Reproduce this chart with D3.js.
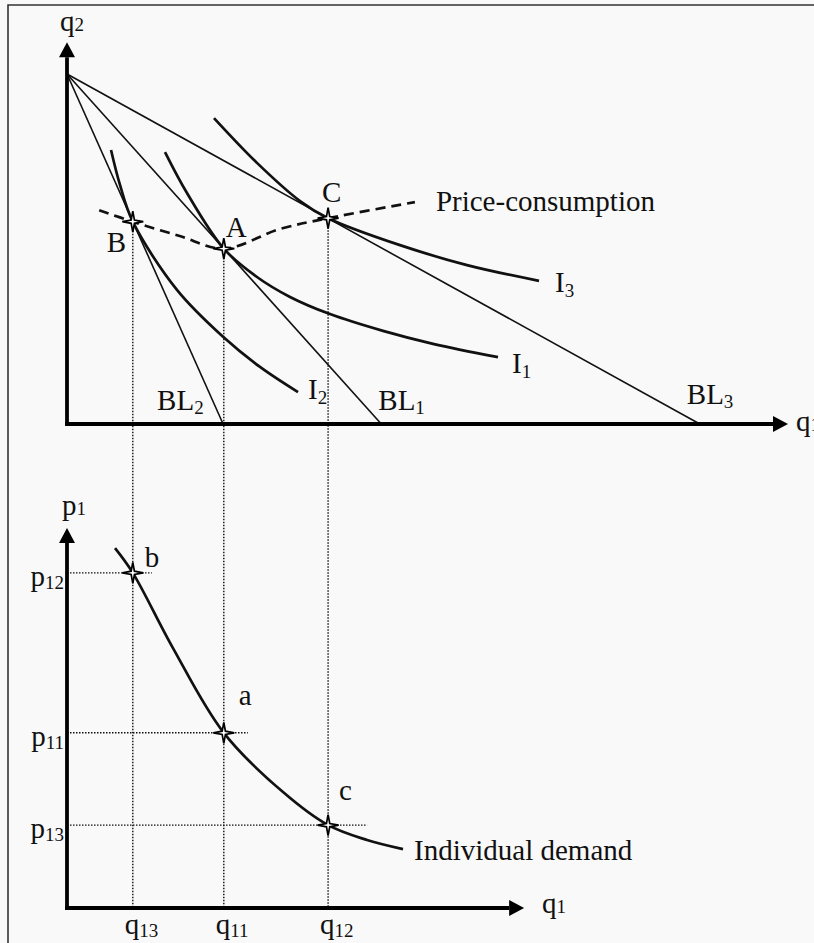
<!DOCTYPE html>
<html><head><meta charset="utf-8">
<script src="https://cdn.jsdelivr.net/npm/d3@7"></script>
<style>
html,body{margin:0;padding:0;background:#f9f9f9;}
svg{display:block;}
text{font-family:"Liberation Serif","Times New Roman",serif;fill:#111;}
</style></head><body>
<svg id="c" width="814" height="943"></svg>
<script>
// ---------------- data ----------------
const q2Intercept = 100;
const budgetLines = [
  {name:"BL", sub:"2", q1:22.3},
  {name:"BL", sub:"1", q1:44.9},
  {name:"BL", sub:"3", q1:90.4}
];
const equilibria = [
  {name:"B", q1:9.4,  q2:57.8},
  {name:"A", q1:22.4, q2:50.1},
  {name:"C", q1:37.3, q2:58.8}
];
const curveI2 = [[6.29,78.3],[7.57,68.3],[9.4,57.8],[15.71,38.3],[22.29,24.9],[27.57,16.3],[33.0,9.1]];
const curveI1 = [[14.0,77.7],[17.14,66.0],[22.4,50.1],[27.14,42.0],[31.86,36.3],[37.57,31.4],[45.14,26.6],[52.29,22.9],[61.57,19.1]];
const curveI3 = [[21.0,87.4],[27.14,74.6],[33.29,63.7],[37.3,58.8],[47.57,51.1],[57.14,45.4],[67.43,40.9]];
const indiffNames = [["I","2"],["I","1"],["I","3"]];
const priceConsumption = [[4.6,61.1],[9.4,57.8],[16.1,53.7],[22.4,50.1],[30.4,55.7],[37.3,58.8],[49.7,63.4]];
const demandPoints = [
  {name:"b", q1:9.4,  p1:88.2},
  {name:"a", q1:22.4, p1:46.1},
  {name:"c", q1:37.3, p1:21.8}
];
const demandCurve = [[6.86,94.7],[9.4,88.2],[15.14,68.4],[22.4,46.1],[30.86,30.5],[37.3,21.8],[42.86,17.9],[48.0,15.5]];
const qTickLabels = [["q","13"],["q","11"],["q","12"]];
const pTickLabels = [["p","12"],["p","11"],["p","13"]];

// ---------------- scales ----------------
const x = d3.scaleLinear().domain([0,100]).range([67,767]);
const yT = d3.scaleLinear().domain([0,100]).range([424,74]);
const yB = d3.scaleLinear().domain([0,100]).range([908,528]);

const svg = d3.select("#c");
const FS = 29, SUB = 19;

// border
svg.append("path").attr("d","M8,943V5H814").attr("fill","none").attr("stroke","#333").attr("stroke-width",1.6);

function label(px, py, main, sub, anchor, dy){
  const t = svg.append("text").attr("x",px).attr("y",py).attr("font-size",FS)
    .attr("text-anchor",anchor||"start");
  t.append("tspan").text(main);
  if(sub){ t.append("tspan").attr("font-size",SUB).attr("dy",dy==null?4:dy).text(sub); }
  return t;
}

// dotted guide lines
const dotted = svg.append("g").attr("stroke","#111").attr("stroke-width",1.4).attr("stroke-dasharray","1.5,1.5").attr("fill","none");
equilibria.forEach(d=>{
  dotted.append("line").attr("x1",x(d.q1)).attr("x2",x(d.q1)).attr("y1",yT(d.q2)).attr("y2",yB(0));
});
const hExt = [19,24,39];
demandPoints.forEach((d,i)=>{
  dotted.append("line").attr("x1",x(0)).attr("x2",x(d.q1)+hExt[i]).attr("y1",yB(d.p1)).attr("y2",yB(d.p1));
});

// budget lines
budgetLines.forEach(b=>{
  svg.append("line").attr("x1",x(0)).attr("y1",yT(q2Intercept)).attr("x2",x(b.q1)).attr("y2",yT(0))
    .attr("stroke","#111").attr("stroke-width",1.6);
});

// indifference curves
const curve = d3.curveCatmullRom.alpha(0.5);
const line = d3.line().x(d=>x(d[0])).y(d=>yT(d[1])).curve(curve);
[curveI2,curveI1,curveI3].forEach(c=>{
  svg.append("path").attr("d",line(c)).attr("fill","none").attr("stroke","#111").attr("stroke-width",2.7);
});
// price-consumption
svg.append("path").attr("d",line(priceConsumption)).attr("fill","none").attr("stroke","#111")
  .attr("stroke-width",2.7).attr("stroke-dasharray","10,6");
// demand curve
const dline = d3.line().x(d=>x(d[0])).y(d=>yB(d[1])).curve(curve);
svg.append("path").attr("d",dline(demandCurve)).attr("fill","none").attr("stroke","#111").attr("stroke-width",2.7);

// axes
function axis(x1,y1,x2,y2){
  svg.append("line").attr("x1",x1).attr("y1",y1).attr("x2",x2).attr("y2",y2)
    .attr("stroke","#000").attr("stroke-width",3.8);
}
function arrowUp(px,tip){ svg.append("path").attr("d",`M${px},${tip}L${px-8},${tip+15}L${px+8},${tip+15}Z`).attr("fill","#000"); }
function arrowRight(tip,py){ svg.append("path").attr("d",`M${tip},${py}L${tip-15},${py-8}L${tip-15},${py+8}Z`).attr("fill","#000"); }
// top panel
axis(x(0), yT(0)+2, x(0), yT(109.1)+15);
arrowUp(x(0), yT(109.1));
axis(x(0)-2, yT(0), x(103)-15, yT(0));
arrowRight(x(103), yT(0));
// bottom panel
axis(x(0), yB(0)+2, x(0), yB(100)+15);
arrowUp(x(0), yB(100));
axis(x(0)-2, yB(0), x(65.3)-15, yB(0));
arrowRight(x(65.3), yB(0));

// stars (4-pointed)
const star4 = {draw(ctx,size){
  const R = Math.sqrt(size), r = R*0.22;
  for(let i=0;i<8;i++){
    const a = -Math.PI/2 + i*Math.PI/4, rr = i%2===0?R:r;
    const px = rr*Math.cos(a), py = rr*Math.sin(a);
    if(i===0) ctx.moveTo(px,py); else ctx.lineTo(px,py);
  }
  ctx.closePath();
}};
const sym = d3.symbol().type(star4).size(110);
equilibria.forEach(d=>{
  svg.append("path").attr("d",sym()).attr("transform",`translate(${x(d.q1)},${yT(d.q2)})`)
    .attr("fill","#fff").attr("stroke","#000").attr("stroke-width",1.7);
});
demandPoints.forEach(d=>{
  svg.append("path").attr("d",sym()).attr("transform",`translate(${x(d.q1)},${yB(d.p1)})`)
    .attr("fill","#fff").attr("stroke","#000").attr("stroke-width",1.7);
});

// ---------------- labels ----------------
label(x(0)-7, yT(109.1)-11, "q", "2", "start", 0);
label(x(103)+8, yT(0)+7, "q", "1", "start", 0);
label(x(0)-5, yB(100)-13, "p", "1", "start", 0);
label(x(65.3)+18, yB(0)+5, "q", "1", "start", 0);

const blOff = [[-66,-14],[-3,-14],[-13,-20]];
budgetLines.forEach((b,i)=> label(x(b.q1)+blOff[i][0], yT(0)+blOff[i][1], b.name, b.sub, "start", 4));

const ends = [curveI2[curveI2.length-1], curveI1[curveI1.length-1], curveI3[curveI3.length-1]];
const iOff = [[10,7],[14,16],[16,11]];
ends.forEach((e,i)=> label(x(e[0])+iOff[i][0], yT(e[1])+iOff[i][1], indiffNames[i][0], indiffNames[i][1], "start", 5));

const eqOff = [[-26,30],[2,-12],[-6,-16]];
equilibria.forEach((d,i)=> label(x(d.q1)+eqOff[i][0], yT(d.q2)+eqOff[i][1], d.name));

const pcEnd = priceConsumption[priceConsumption.length-1];
label(x(pcEnd[0])+21, yT(pcEnd[1])+9, "Price-consumption");

const dOff = [[12,-6],[15,-28],[11,-25]];
demandPoints.forEach((d,i)=> label(x(d.q1)+dOff[i][0], yB(d.p1)+dOff[i][1], d.name));

const dEnd = demandCurve[demandCurve.length-1];
label(x(dEnd[0])+11, yB(dEnd[1])+11, "Individual demand");

demandPoints.forEach((d,i)=> label(x(d.q1)-8, 934, qTickLabels[i][0], qTickLabels[i][1], "start", 3));
demandPoints.forEach((d,i)=> label(x(0)-3, yB(d.p1)+13, pTickLabels[i][0], pTickLabels[i][1], "end", 3));
</script>
</body></html>
